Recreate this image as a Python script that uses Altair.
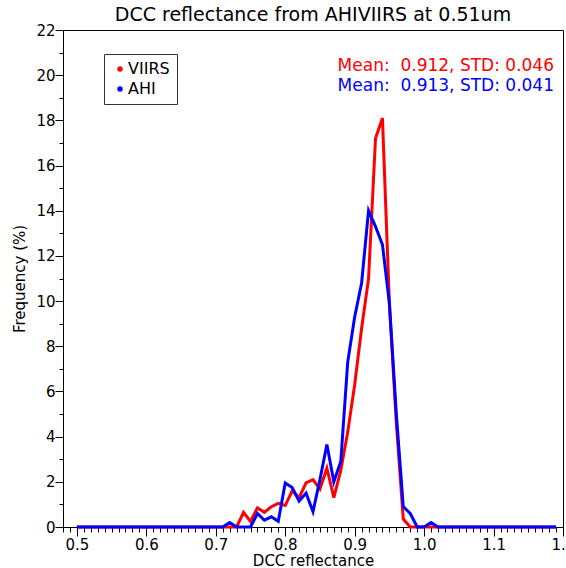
import altair as alt
import pandas as pd

# Histogram bins of DCC reflectance (bin positions, 0.01 wide)
reflectance = [round(0.50 + 0.01 * i, 2) for i in range(70)]

# Frequency (%) per bin
viirs = [
    0, 0, 0, 0, 0, 0, 0, 0, 0, 0,            # 0.50-0.59
    0, 0, 0, 0, 0, 0, 0, 0, 0, 0,            # 0.60-0.69
    0, 0, 0, 0, 0.65, 0.25, 0.85, 0.65, 0.9, 1.05,   # 0.70-0.79
    0.95, 1.6, 1.3, 1.95, 2.1, 1.68, 2.6, 1.3, 2.5, 4.2,  # 0.80-0.89
    6.3, 8.8, 11.0, 17.2, 18.1, 9.9, 4.6, 0.35, 0, 0,    # 0.90-0.99
    0, 0, 0, 0, 0, 0, 0, 0, 0, 0,            # 1.00-1.09
    0, 0, 0, 0, 0, 0, 0, 0, 0, 0,            # 1.10-1.19
]
ahi = [
    0, 0, 0, 0, 0, 0, 0, 0, 0, 0,            # 0.50-0.59
    0, 0, 0, 0, 0, 0, 0, 0, 0, 0,            # 0.60-0.69
    0, 0, 0.2, 0, 0, 0, 0.6, 0.3, 0.45, 0.25,  # 0.70-0.79
    1.95, 1.75, 1.15, 1.5, 0.68, 2.1, 3.65, 2.0, 2.9, 7.3,  # 0.80-0.89
    9.3, 10.8, 14.0, 13.3, 12.5, 9.9, 5.0, 0.9, 0.6, 0,   # 0.90-0.99
    0, 0.2, 0, 0, 0, 0, 0, 0, 0, 0,          # 1.00-1.09
    0, 0, 0, 0, 0, 0, 0, 0, 0, 0,            # 1.10-1.19
]

series_names = ["VIIRS", "AHI"]
series_colors = ["#ff0000", "#0000ff"]
stats_labels = ["Mean:\u00a0 0.912, STD: 0.046", "Mean:\u00a0 0.913, STD: 0.041"]

# Tick positions: major every 0.1 / 2, minor every 0.01 / 1
x_minor = [round(0.48 + 0.01 * i, 2) for i in range(73)]
y_minor = list(range(0, 23))

df = pd.DataFrame({
    "reflectance": reflectance + reflectance,
    "frequency": viirs + ahi,
    "sensor": [series_names[0]] * len(viirs) + [series_names[1]] * len(ahi),
})

FONT = "DejaVu Sans"
W, H = 500, 497
X_MAJOR = "abs(datum.value * 10 - round(datum.value * 10)) < 0.001"
Y_MAJOR = "datum.value % 2 == 0"

x_scale = alt.Scale(domain=[0.48, 1.2], nice=False, zero=False)
y_scale = alt.Scale(domain=[0, 22], nice=False, zero=False)

label_style = dict(grid=False, domain=False, tickColor="black", tickWidth=1,
                   labelFlush=False, labelOverlap=False, labelBound=False,
                   labelFont=FONT, labelFontSize=15, labelColor="black",
                   titleFont=FONT, titleFontSize=15, titleFontWeight="normal",
                   titleColor="black")

# major ticks long, minor ticks short; only the majors carry a label
bottom_axis = alt.Axis(orient="bottom", values=x_minor,
                       tickSize={"condition": {"test": X_MAJOR, "value": 9}, "value": 5},
                       labelExpr=f"{X_MAJOR} ? format(datum.value, '.1f') : ''",
                       labelPadding=1, title="DCC reflectance",
                       titleBaseline="middle", titleY=33, **label_style)
left_axis = alt.Axis(orient="left", values=y_minor,
                     tickSize={"condition": {"test": Y_MAJOR, "value": 8}, "value": 4},
                     labelExpr=f"{Y_MAJOR} ? format(datum.value, 'd') : ''",
                     labelPadding=0, title="Frequency (%)", titlePadding=8,
                     **label_style)

legend = alt.Legend(title=None, orient="none", legendX=41, legendY=24,
                    strokeColor="#333333", fillColor="white", padding=7,
                    symbolType="circle", symbolSize=6, symbolStrokeWidth=3,
                    symbolOffset=1, labelOffset=0, rowPadding=4,
                    labelFont=FONT, labelFontSize=16, labelColor="black")

lines = alt.Chart(df).mark_line(strokeWidth=3).encode(
    x=alt.X("reflectance:Q", scale=x_scale, axis=bottom_axis),
    y=alt.Y("frequency:Q", scale=y_scale, axis=left_axis),
    color=alt.Color("sensor:N", sort=series_names,
                    scale=alt.Scale(domain=series_names, range=series_colors),
                    legend=legend),
)

stat_layers = []
for i, (label, colour) in enumerate(zip(stats_labels, series_colors)):
    stat_layers.append(
        alt.Chart(pd.DataFrame({"label": [label]})).mark_text(
            align="right", baseline="middle", font=FONT, fontSize=17, color=colour
        ).encode(text="label:N", x=alt.value(491), y=alt.value(36 + 20 * i))
    )

chart = alt.layer(lines, *stat_layers).properties(
    width=W,
    height=H,
    title=alt.TitleParams("DCC reflectance from AHIVIIRS at 0.51um", font=FONT,
                          fontSize=19, fontWeight="normal", color="black",
                          anchor="middle", frame="group", offset=-2),
    autosize=alt.AutoSizeParams(type="none"),
    padding={"left": 63, "top": 30, "right": 3, "bottom": 41},
).configure_view(stroke="black", strokeWidth=1)

chart.save("out.html", embed_options={"renderer": "svg", "actions": False})
